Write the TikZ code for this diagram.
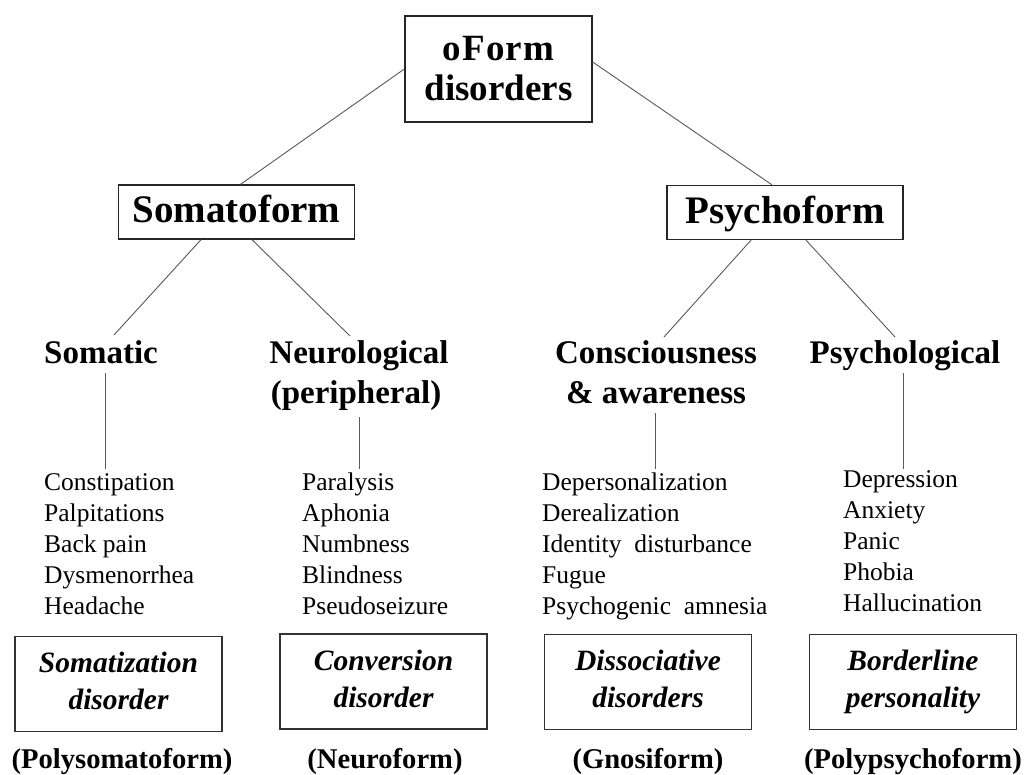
\documentclass[tikz,border=0pt]{standalone}
\usepackage{fontspec}
\setmainfont{Liberation Serif}
\usetikzlibrary{calc}
\begin{document}
\begin{tikzpicture}[x=1pt,y=-1pt,
  conn/.style={draw=black!65, line width=0.9pt},
  topbox/.style={draw=black!85, line width=1.3pt, minimum width=187pt, minimum height=106pt, inner sep=0pt, align=center, font=\bfseries\fontsize{37}{40}\selectfont},
  midbox/.style={draw=black!85, line width=1.3pt, minimum width=236pt, minimum height=54pt, inner sep=0pt, text height=27pt, text depth=5pt, font=\bfseries\fontsize{39}{44}\selectfont},
  cat/.style={anchor=base, inner sep=0pt, font=\bfseries\fontsize{33}{40}\selectfont},
  item/.style={anchor=base west, inner sep=0pt, font=\fontsize{25.5}{31}\selectfont},
  dbox/.style={draw=black!80, line width=1.1pt, minimum width=207pt, minimum height=95pt, inner sep=0pt, align=center, font=\bfseries\itshape\fontsize{29.5}{37}\selectfont},
  form/.style={anchor=base, inner sep=0pt, font=\bfseries\fontsize{28.6}{34}\selectfont}]
\useasboundingbox[fill=white] (0,0) rectangle (1025,775);

% top levels
\node[topbox] (top) at (498.5,69) {o\kern1.2pt F\kern1.2pt o\kern1.2pt r\kern1.2pt m\\disorders};
\node[midbox] (soma) at (236.5,212) {Somatoform};
\node[midbox] (psycho) at (785,212.5) {Psychoform};

% categories
\node[cat] (somatic) at (101,363) {Somatic};
\node[cat] (neuroA) at (359,363) {Neurological};
\node[cat] (neuroB) at (356,403) {(peripheral)};
\node[cat] (consA) at (656,363) {Consciousness};
\node[cat] (consB) at (656,403) {\& awareness};
\node[cat] (psychol) at (905,363) {Psychological};

% symptom lists
\foreach \t [count=\i] in {Constipation,Palpitations,{Back pain},Dysmenorrhea,Headache}
  \node[item] (s\i) at (44,{490+31*(\i-1)}) {\t};
\foreach \t [count=\i] in {Paralysis,Aphonia,Numbness,Blindness,Pseudoseizure}
  \node[item] (n\i) at (302,{490+31*(\i-1)}) {\t};
\foreach \t [count=\i] in {Depersonalization,Derealization,{Identity\hspace{0.5em}disturbance},Fugue,{Psychogenic\hspace{0.5em}amnesia}}
  \node[item] (d\i) at (542,{490+31*(\i-1)}) {\t};
\foreach \t [count=\i] in {Depression,Anxiety,Panic,Phobia,Hallucination}
  \node[item] (p\i) at (843,{487+31*(\i-1)}) {\t};

% disorder boxes
\node[dbox] (somdis) at (118.5,684) {\strut Somatization\\disorder\strut};
\node[dbox] (condis) at (383.5,681.5) {\strut Conversion\\disorder\strut};
\node[dbox] (disdis) at (648,682) {\strut Dissociative\\disorders\strut};
\node[dbox] (bordis) at (913,682) {\strut Borderline\\personality\strut};

% form labels
\node[form] (fA) at (122,768) {(Polysomatoform)};
\node[form] (fB) at (385,768) {(Neuroform)};
\node[form] (fC) at (648,768) {(Gnosiform)};
\node[form] (fD) at (913,768) {(Polypsychoform)};

% connectors
\draw[conn] (top.west) -- ($(soma.north)+(4,0)$);
\draw[conn] ($(top.east)+(0,-7)$) -- ($(psycho.north)+(-13,0)$);
\draw[conn] ($(soma.south)+(-35.5,0)$) -- ($(somatic.base)+(13,-28)$);
\draw[conn] ($(soma.south)+(15.5,0)$) -- ($(neuroA.base)+(-9,-27)$);
\draw[conn] ($(psycho.south)+(-34,0)$) -- ($(consA.base)+(8,-26)$);
\draw[conn] ($(psycho.south)+(21,0)$) -- ($(psychol.base)+(-10,-26)$);

\draw[conn] ($(somatic.base)+(4,10)$) -- ($(s1.base -| somatic.base)+(4,-21)$);
\draw[conn] ($(neuroA.base)+(0,54)$) -- ($(n1.base -| neuroA.base)+(0,-21)$);
\draw[conn] ($(consB.base)+(-1,10)$) -- ($(d1.base -| consB.base)+(-1,-21)$);
\draw[conn] ($(psychol.base)+(-2,10)$) -- ($(p1.base -| psychol.base)+(-2,-18)$);
\end{tikzpicture}
\end{document}
